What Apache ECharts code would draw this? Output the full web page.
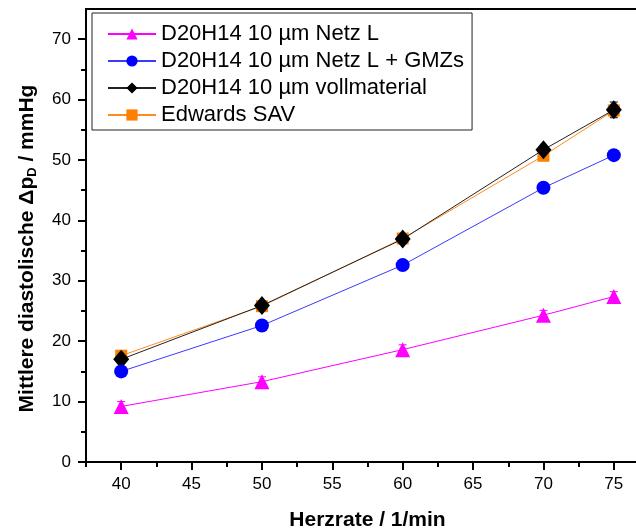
<!DOCTYPE html>
<html>
<head>
<meta charset="utf-8">
<script src="https://cdn.jsdelivr.net/npm/echarts@6/dist/echarts.min.js"></script>
<style>html,body{margin:0;padding:0;background:#fff;}#c{width:636px;height:532px;}</style>
</head>
<body>
<div id="c"></div>
<script>
// Data
const heartRates = [40, 50, 60, 70, 75];
const netzL      = [9.2, 13.3, 18.6, 24.3, 27.4];
const netzLErr   = [0.8, 0.8, 0.8, 0.8, 0.8];
const netzGMZ    = [15.0, 22.6, 32.6, 45.4, 50.8];
const netzGMZErr = [0.3, 0.3, 0.3, 0.4, 0.4];
const voll       = [17.0, 25.9, 36.9, 51.7, 58.3];
const vollErr    = [0.4, 0.4, 0.5, 0.5, 1.3];
const edwards    = [17.6, 25.8, 37.0, 50.7, 58.2];
const edwardsErr = [0.3, 0.3, 0.4, 0.5, 1.0];
const xTicks = [40, 45, 50, 55, 60, 65, 70, 75];
const xMinorTicks = [37.5, 42.5, 47.5, 52.5, 57.5, 62.5, 67.5, 72.5, 77.5];
const yTicks = [0, 10, 20, 30, 40, 50, 60, 70];
const yMinorTicks = [5, 15, 25, 35, 45, 55, 65];
const names = ['D20H14 10 µm Netz L', 'D20H14 10 µm Netz L + GMZs', 'D20H14 10 µm vollmaterial', 'Edwards SAV'];

const pairs = arr => heartRates.map((x, i) => [x, arr[i]]);
const errData = (vals, errs) => heartRates.map((x, i) => [x, vals[i] - errs[i], vals[i] + errs[i]]);

function errRender(color) {
  return function (params, api) {
    const x = api.value(0);
    const lo = api.coord([x, api.value(1)]);
    const hi = api.coord([x, api.value(2)]);
    const w = 4;
    const st = { stroke: color, lineWidth: 1 };
    return {
      type: 'group',
      children: [
        { type: 'line', shape: { x1: lo[0], y1: lo[1], x2: hi[0], y2: hi[1] }, style: st },
        { type: 'line', shape: { x1: lo[0] - w, y1: lo[1], x2: lo[0] + w, y2: lo[1] }, style: st },
        { type: 'line', shape: { x1: hi[0] - w, y1: hi[1], x2: hi[0] + w, y2: hi[1] }, style: st }
      ]
    };
  };
}

const chart = echarts.init(document.getElementById('c'));
const font = 'Arial, "Liberation Sans", sans-serif';
chart.setOption({
  animation: false,
  backgroundColor: '#fff',
  textStyle: { fontFamily: font },
  grid: { left: 86, width: 563, top: 9, height: 453, outerBoundsMode: 'none', containLabel: false,
          show: true, borderColor: '#000', borderWidth: 2, backgroundColor: 'transparent' },
  legend: {
    data: names,
    orient: 'vertical',
    left: 92, top: 13,
    borderColor: '#222', borderWidth: 1,
    padding: [10, 8, 4, 15],
    itemWidth: 48, itemHeight: 14, itemGap: 5,
    textStyle: { fontSize: 22, color: '#000', fontFamily: font },
    backgroundColor: '#fff'
  },
  xAxis: [{
    type: 'value', min: 37.5, max: 77.5,
    name: 'Herzrate / 1/min', nameLocation: 'middle', nameGap: 48,
    nameTextStyle: { fontSize: 21, fontWeight: 'bold', color: '#000' },
    axisLine: { show: true, lineStyle: { color: '#000', width: 2 } },
    axisTick: { show: true, length: 8, customValues: xTicks, lineStyle: { color: '#000', width: 2 } },
    axisLabel: { customValues: xTicks, fontSize: 17, color: '#000', margin: 14 },
    splitLine: { show: false }
  }, {
    type: 'value', min: 37.5, max: 77.5, position: 'bottom', offset: 0,
    axisLine: { show: false },
    axisTick: { show: true, length: 5, customValues: xMinorTicks, lineStyle: { color: '#000', width: 2 } },
    axisLabel: { show: false }, splitLine: { show: false }
  }],
  yAxis: [{
    type: 'value', min: 0, max: 75,
    name: 'Mittlere diastolische Δp{sub|D} / mmHg', nameLocation: 'middle', nameGap: 47,
    nameTextStyle: { fontSize: 21, fontWeight: 'bold', color: '#000', padding: [0, 26, 0, 0],
      rich: { sub: { fontSize: 13, fontWeight: 'bold', color: '#000', padding: [11, 0, 0, 0] } } },
    axisLine: { show: true, lineStyle: { color: '#000', width: 2 } },
    axisTick: { show: true, length: 8, customValues: yTicks, lineStyle: { color: '#000', width: 2 } },
    axisLabel: { customValues: yTicks, fontSize: 17, color: '#000', margin: 15 },
    splitLine: { show: false }
  }, {
    type: 'value', min: 0, max: 75, position: 'left', offset: 0,
    axisLine: { show: false },
    axisTick: { show: true, length: 5, customValues: yMinorTicks, lineStyle: { color: '#000', width: 2 } },
    axisLabel: { show: false }, splitLine: { show: false }
  }],
  series: [
    { type: 'custom', renderItem: errRender('#ff8000'), data: errData(edwards, edwardsErr), z: 1, silent: true },
    { type: 'custom', renderItem: errRender('#000'), data: errData(voll, vollErr), z: 1, silent: true },
    { type: 'custom', renderItem: errRender('#0000ff'), data: errData(netzGMZ, netzGMZErr), z: 1, silent: true },
    { type: 'custom', renderItem: errRender('#ff00ff'), data: errData(netzL, netzLErr), z: 1, silent: true },
    { name: names[3], type: 'line', data: pairs(edwards), symbol: 'rect', symbolSize: 12,
      itemStyle: { color: '#ff8000' }, lineStyle: { color: '#ff8c1a', width: 1 }, z: 2 },
    { name: names[2], type: 'line', data: pairs(voll), symbol: 'diamond', symbolSize: [16, 19],
      itemStyle: { color: '#000' }, lineStyle: { color: '#222', width: 1 }, z: 3 },
    { name: names[1], type: 'line', data: pairs(netzGMZ), symbol: 'circle', symbolSize: 14,
      itemStyle: { color: '#0000ff' }, lineStyle: { color: '#3a3aff', width: 1 }, z: 3 },
    { name: names[0], type: 'line', data: pairs(netzL), symbol: 'triangle', symbolSize: 15,
      itemStyle: { color: '#ff00ff' }, lineStyle: { color: '#ff00ff', width: 1 }, z: 3 }
  ]
});
</script>
</body>
</html>
